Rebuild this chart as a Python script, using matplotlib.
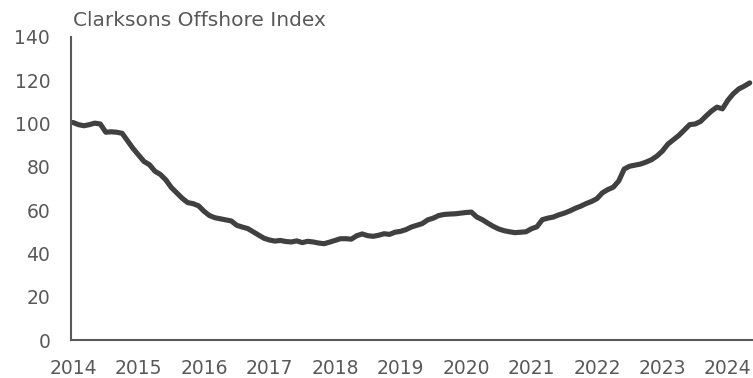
import matplotlib
matplotlib.use("Agg")
import matplotlib.pyplot as plt
import numpy as np

# Monthly index values, Jan 2014 onwards
start_year = 2014
index_values = [
    100.5, 99.5, 99.0, 99.5, 100.2, 99.8, 96.0, 96.2, 96.0, 95.5, 92.0, 88.5,   # 2014
    85.5, 82.5, 81.0, 78.0, 76.5, 74.0, 70.5, 68.0, 65.5, 63.5, 63.0, 62.0,     # 2015
    59.5, 57.5, 56.5, 56.0, 55.5, 55.0, 53.0, 52.2, 51.5, 50.0, 48.5, 47.0,     # 2016
    46.2, 45.7, 46.0, 45.5, 45.3, 45.8, 45.0, 45.6, 45.3, 44.8, 44.5, 45.2,     # 2017
    46.0, 46.8, 46.8, 46.6, 48.2, 49.0, 48.2, 47.9, 48.4, 49.1, 48.8, 49.8,     # 2018
    50.2, 51.0, 52.2, 53.0, 53.8, 55.5, 56.3, 57.5, 58.0, 58.2, 58.3, 58.6,     # 2019
    58.9, 59.1, 56.8, 55.6, 54.0, 52.5, 51.3, 50.5, 50.0, 49.6, 49.8, 50.0,     # 2020
    51.4, 52.3, 55.6, 56.3, 56.8, 57.8, 58.6, 59.6, 60.8, 61.8, 63.0, 64.0,     # 2021
    65.3, 68.0, 69.5, 70.6, 73.5, 79.0, 80.3, 80.8, 81.3, 82.2, 83.3, 85.0,     # 2022
    87.3, 90.5, 92.5, 94.5, 97.0, 99.5, 99.8, 101.0, 103.5, 105.8, 107.6, 106.8,  # 2023
    110.8, 113.8, 116.0, 117.3, 118.8,                                          # 2024
]
year_labels = [str(y) for y in range(2014, 2025)]
y_ticks = [0, 20, 40, 60, 80, 100, 120, 140]
title_text = "Clarksons Offshore Index"

text_color = "#595959"
line_color = "#404040"
font = "DejaVu Sans"

fig = plt.figure(figsize=(7.53, 3.78), dpi=100)
ax = fig.add_axes([71 / 753, 1 - 340 / 378, (753 - 71) / 753, (340 - 37) / 378])

months = np.arange(len(index_values))
ax.plot(months, index_values, color=line_color, lw=3.7,
        solid_joinstyle="round", solid_capstyle="round", clip_on=False)

ax.set_xlim(-0.37, 124.6)
ax.set_ylim(0, 140)
ax.set_xticks([12 * i for i in range(len(year_labels))])
ax.set_xticklabels(year_labels)
ax.set_yticks(y_ticks)
ax.set_yticklabels([str(v) for v in y_ticks])

for lab in ax.get_xticklabels() + ax.get_yticklabels():
    lab.set_fontfamily(font)
    lab.set_fontsize(13.5)
    lab.set_color(text_color)

ax.tick_params(axis="both", length=0)
ax.tick_params(axis="x", pad=14)
ax.tick_params(axis="y", pad=15)

for side in ("top", "right"):
    ax.spines[side].set_visible(False)
for side in ("left", "bottom"):
    ax.spines[side].set_color(text_color)
    ax.spines[side].set_linewidth(1.5)

fig.text(73 / 753, 1 - 26 / 378, title_text, fontfamily=font, fontsize=14.5,
         color=text_color, ha="left", va="baseline")

fig.savefig("out.png", dpi=100)
